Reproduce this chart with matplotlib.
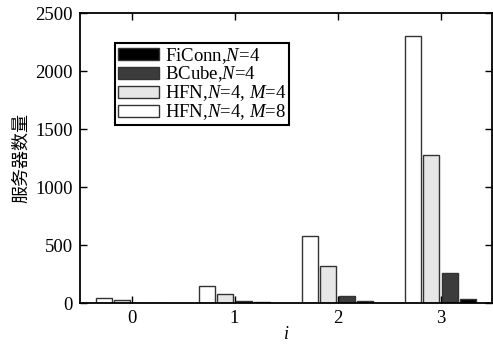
import matplotlib
matplotlib.use("Agg")
import matplotlib.pyplot as plt
import numpy as np

plt.rcParams['font.family'] = ['Liberation Serif', 'Noto Sans CJK SC']
plt.rcParams['mathtext.fontset'] = 'custom'
plt.rcParams['mathtext.rm'] = 'Liberation Serif'
plt.rcParams['mathtext.it'] = 'Liberation Serif:italic'

groups = [0, 1, 2, 3]
hfn_m8 = [40, 144, 576, 2304]
hfn_m4 = [24, 80, 320, 1280]
bcube = [4, 16, 64, 256]
ficonn = [3, 8, 18, 36]

labels = ['FiConn,$N$=4', 'BCube,$N$=4', 'HFN,$N$=4, $M$=4', 'HFN,$N$=4, $M$=8']

fig = plt.figure(figsize=(4.93, 3.44), dpi=100)
ax = fig.add_axes([80/493, 1-303/344, 412/493, 290/344])

x = np.array(groups, dtype=float)
w = 0.155
step = 0.18
series = [hfn_m8, hfn_m4, bcube, ficonn]
cols = ['#ffffff', '#e6e6e6', '#3c3c3c', '#000000']
offs = [-1.5*step, -0.5*step, 0.5*step, 1.5*step]
handles = {}
for s, c, o in zip(series, cols, offs):
    b = ax.bar(x + o, s, width=w, color=c, edgecolor='#333333', linewidth=1.0)
    handles[c] = b

ax.set_xlim(-0.5, 3.5)
ax.set_ylim(0, 2500)
ax.set_xticks(groups)
ax.set_yticks([0, 500, 1000, 1500, 2000, 2500])
ax.tick_params(direction='in', top=True, right=True, length=5, width=1, labelsize=13.5, pad=5)
for sp in ax.spines.values():
    sp.set_linewidth(1.3)

ax.set_ylabel('服务器数量', fontsize=13, family=['Noto Sans CJK SC'], labelpad=4)
ax.set_xlabel('$i$', fontsize=13, labelpad=-1)

leg = ax.legend([handles['#000000'], handles['#3c3c3c'], handles['#e6e6e6'], handles['#ffffff']], labels,
                loc='upper left', bbox_to_anchor=(115/493, 1-43/344), bbox_transform=fig.transFigure,
                fontsize=13.5, fancybox=False, edgecolor='black', framealpha=1,
                handlelength=2.2, handleheight=0.6, labelspacing=-0.05, borderpad=0.15,
                handletextpad=0.3, borderaxespad=0)
leg.get_frame().set_linewidth(1.5)

fig.savefig('out.png', dpi=100)
